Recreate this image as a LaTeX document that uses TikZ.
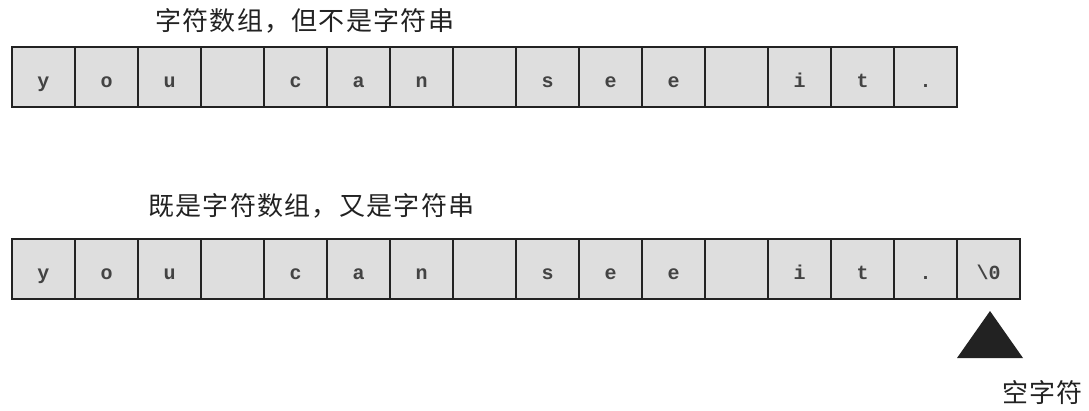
\documentclass[tikz,border=0pt]{standalone}
\usepackage{fontspec}
\newfontfamily\cjk[LetterSpace=5]{Noto Sans CJK SC}
\newfontfamily\mono{Liberation Mono}
\definecolor{cellgray}{HTML}{DEDEDE}
\definecolor{inkdark}{HTML}{222222}
\tikzset{
  cell/.style={draw=inkdark, line width=2pt, fill=cellgray, minimum width=63pt, minimum height=60pt,
    inner sep=0pt, text height=20pt, text depth=0pt, font=\mono\bfseries\fontsize{20}{20}\selectfont, text=inkdark!85},
  label/.style={font=\cjk\fontsize{26}{26}\selectfont, anchor=west, inner sep=0pt, text=inkdark}
}
\begin{document}
\begin{tikzpicture}[x=1pt,y=-1pt]
\useasboundingbox (0,0) rectangle (1089,410);
\fill[white] (0,0) rectangle (1089,410);
\node[label] (lt) at (155,21) {字符数组，但不是字符串};
\foreach \c [count=\i] in {y,o,u,{},c,a,n,{},s,e,e,{},i,t,.}{
  \node[cell] (t\i) at ({12+63*(\i-0.5)},77) {\c};
}
\node[label] (lb) at (148,206) {既是字符数组，又是字符串};
\foreach \c [count=\i] in {y,o,u,{},c,a,n,{},s,e,e,{},i,t,.,{\textbackslash 0}}{
  \node[cell] (b\i) at ({12+63*(\i-0.5)},269) {\c};
}
\fill[inkdark] (990,311) -- (1023,358) -- (957,358) -- cycle;
\node[label] (nul) at (1002,393) {空字符};
\end{tikzpicture}
\end{document}
